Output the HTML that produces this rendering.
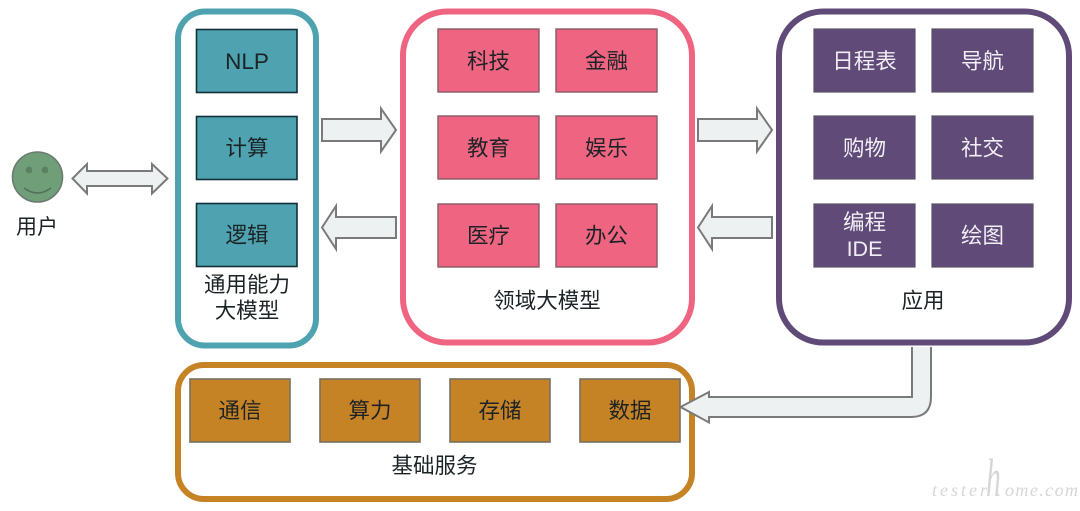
<!DOCTYPE html>
<html lang="zh">
<head>
<meta charset="utf-8">
<title>大模型架构图</title>
<style>
html,body{margin:0;padding:0;background:#fff;width:1080px;height:511px;overflow:hidden}
svg{display:block;filter:blur(0.35px)}
text{font-family:"Liberation Sans","Noto Sans CJK SC",sans-serif;font-size:21.500px;text-anchor:middle;fill:#1c2326}
.cjk{font-family:"Noto Sans CJK SC","Liberation Sans",sans-serif}
.w text{fill:#f1eef5}
.a{fill:#edf1f2;stroke:#7a7a7a;stroke-width:2;stroke-linejoin:miter}
.t{fill:#4fa3b0;stroke:#12303a;stroke-width:1.600}
.p{fill:#ef6480;stroke:#8a5a68;stroke-width:1.400}
.u{fill:#5f4a78;stroke:#5a5266;stroke-width:1.200}
.o{fill:#c68326;stroke:#77705f;stroke-width:1.600}
.wm{font-family:"Liberation Serif",serif;font-style:italic;fill:#d6d6d6;text-anchor:start}
</style>
</head>
<body>
<svg width="1080" height="511" viewBox="0 0 1080 511" xmlns="http://www.w3.org/2000/svg">
<g fill="#fff" stroke-width="6">
<rect x="178" y="11.500" width="138" height="334" rx="27" stroke="#4fa3b0"/>
<rect x="403" y="11.500" width="289" height="331" rx="44" stroke="#ef6480"/>
<rect x="779" y="11.500" width="290" height="331" rx="44" stroke="#5f4a78"/>
<rect x="178" y="365" width="514" height="134" rx="26" stroke="#c68326"/>
</g>

<!-- user -->
<circle cx="37.500" cy="177" r="25" fill="#6f9e78" stroke="#6c7a70" stroke-width="1.600"/>
<circle cx="29" cy="170" r="3.300" fill="#5b7f63"/>
<circle cx="45" cy="170" r="3.300" fill="#5b7f63"/>
<path d="M24 188 Q37.500 198 51 188" fill="none" stroke="#4f7258" stroke-width="1.500"/>
<text class="cjk" x="37" y="234" style="font-size:21px">用户</text>

<!-- arrows -->
<path class="a" d="M72.500 178.500 L87 164 L87 171 L152 171 L152 164 L167.500 178.500 L152 193.500 L152 186 L87 186 L87 193.500 Z"/>
<path class="a" d="M322 119 L381 119 L381 108.500 L396 130 L381 151.500 L381 141 L322 141 Z"/>
<path class="a" d="M396 217 L336 217 L336 206 L322 227.500 L336 249 L336 238 L396 238 Z"/>
<path class="a" d="M698 119 L757 119 L757 108.500 L772 130 L757 151.500 L757 141 L698 141 Z"/>
<path class="a" d="M772 217 L712 217 L712 206 L698 227.500 L712 249 L712 238 L772 238 Z"/>
<path class="a" d="M912 347 L912 397 L709 397 L709 392 L680.500 407 L709 422.500 L709 417 L911 417 Q931 417 931 397 L931 347"/>

<!-- teal -->
<rect class="t" x="196.500" y="29.500" width="100.500" height="63"/>
<rect class="t" x="196.500" y="116.500" width="100.500" height="63"/>
<rect class="t" x="196.500" y="203.500" width="100.500" height="63"/>
<text x="247" y="69" style="font-size:22.500px">NLP</text>
<text class="cjk" x="247" y="155.500">计算</text>
<text class="cjk" x="247" y="242.500">逻辑</text>
<text class="cjk" x="247" y="292">通用能力</text>
<text class="cjk" x="247" y="318">大模型</text>

<!-- pink -->
<rect class="p" x="438" y="29" width="101" height="63"/>
<rect class="p" x="556" y="29" width="101" height="63"/>
<rect class="p" x="438" y="116" width="101" height="63"/>
<rect class="p" x="556" y="116" width="101" height="63"/>
<rect class="p" x="438" y="204" width="101" height="63"/>
<rect class="p" x="556" y="204" width="101" height="63"/>
<text class="cjk" x="488.500" y="68.500">科技</text>
<text class="cjk" x="606.500" y="68.500">金融</text>
<text class="cjk" x="488.500" y="155.500">教育</text>
<text class="cjk" x="606.500" y="155.500">娱乐</text>
<text class="cjk" x="488.500" y="243">医疗</text>
<text class="cjk" x="606.500" y="243">办公</text>
<text class="cjk" x="547" y="308">领域大模型</text>

<!-- purple -->
<rect class="u" x="814" y="29" width="101" height="63"/>
<rect class="u" x="932" y="29" width="101" height="63"/>
<rect class="u" x="814" y="116" width="101" height="63"/>
<rect class="u" x="932" y="116" width="101" height="63"/>
<rect class="u" x="814" y="204" width="101" height="63"/>
<rect class="u" x="932" y="204" width="101" height="63"/>
<g class="w">
<text class="cjk" x="864.500" y="229.500">编程</text>
<text x="864.500" y="256">IDE</text>
<text class="cjk" x="864.500" y="68.500">日程表</text>
<text class="cjk" x="982.500" y="68.500">导航</text>
<text class="cjk" x="864.500" y="155.500">购物</text>
<text class="cjk" x="982.500" y="155.500">社交</text>
<text class="cjk" x="982.500" y="243">绘图</text>
</g>
<text class="cjk" x="923" y="308">应用</text>

<!-- orange -->
<rect class="o" x="190" y="379" width="100" height="63"/>
<rect class="o" x="320" y="379" width="100" height="63"/>
<rect class="o" x="450" y="379" width="100" height="63"/>
<rect class="o" x="580" y="379" width="100" height="63"/>
<text class="cjk" x="240" y="418">通信</text>
<text class="cjk" x="370" y="418">算力</text>
<text class="cjk" x="500" y="418">存储</text>
<text class="cjk" x="630" y="418">数据</text>
<text class="cjk" x="434.500" y="473">基础服务</text>

<!-- watermark -->
<text class="wm" x="932" y="496" style="font-size:18px" textLength="55" lengthAdjust="spacing">tester</text>
<text class="wm" transform="translate(986,496) scale(.55,1)" x="0" y="0" style="font-size:54px">h</text>
<text class="wm" x="1005" y="496" style="font-size:18px" textLength="73" lengthAdjust="spacing">ome.com</text>
</svg>
</body>
</html>
